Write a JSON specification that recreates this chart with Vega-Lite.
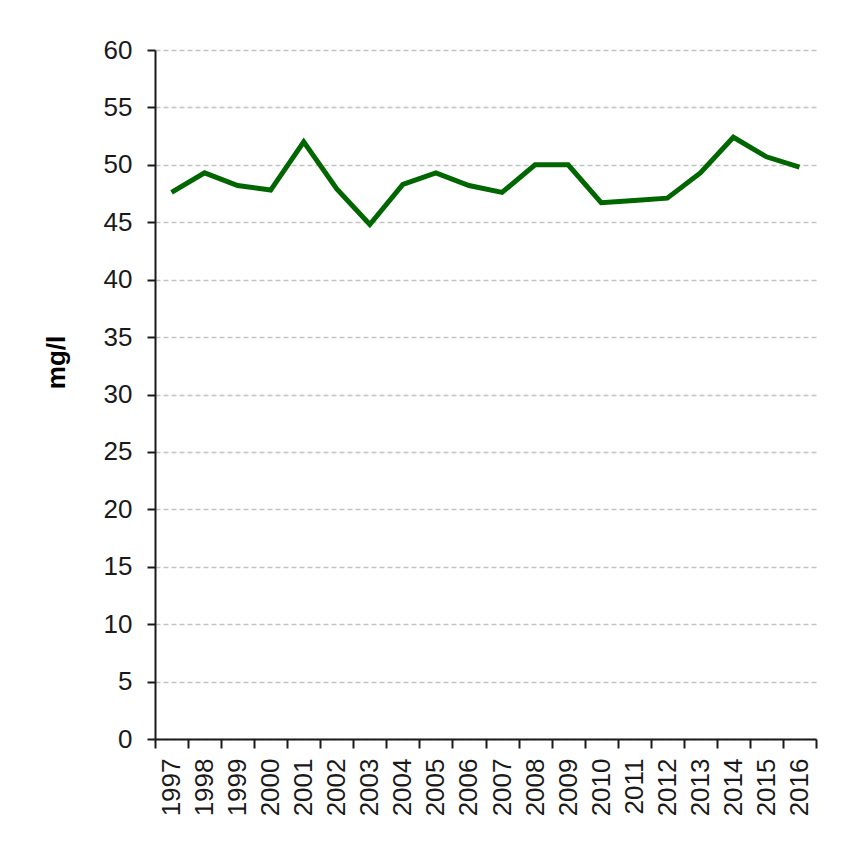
{
  "$schema": "https://vega.github.io/schema/vega-lite/v6.json",
  "width": 661,
  "height": 689,
  "autosize": {"type": "none"},
  "padding": {"left": 155, "top": 50, "right": 34, "bottom": 104},
  "background": "white",
  "config": {
    "view": {"stroke": null},
    "axis": {
      "labelFont": "Liberation Sans Narrow, Arial Narrow, Liberation Sans",
      "labelFontSize": 26,
      "labelColor": "#1a1a1a",
      "domainColor": "#1a1a1a",
      "domainWidth": 2,
      "tickColor": "#1a1a1a",
      "tickWidth": 2
    }
  },
  "data": {
    "values": [
      {"year": 1997, "value": 47.6},
      {"year": 1998, "value": 49.3},
      {"year": 1999, "value": 48.2},
      {"year": 2000, "value": 47.8},
      {"year": 2001, "value": 52.0},
      {"year": 2002, "value": 47.9},
      {"year": 2003, "value": 44.8},
      {"year": 2004, "value": 48.3},
      {"year": 2005, "value": 49.3},
      {"year": 2006, "value": 48.2},
      {"year": 2007, "value": 47.6},
      {"year": 2008, "value": 50.0},
      {"year": 2009, "value": 50.0},
      {"year": 2010, "value": 46.7},
      {"year": 2011, "value": 46.9},
      {"year": 2012, "value": 47.1},
      {"year": 2013, "value": 49.3},
      {"year": 2014, "value": 52.4},
      {"year": 2015, "value": 50.7},
      {"year": 2016, "value": 49.8}
    ]
  },
  "layer": [
    {
      "mark": {"type": "line", "color": "#006600", "strokeWidth": 5},
      "encoding": {
        "x": {
          "field": "year",
          "type": "quantitative",
          "scale": {"domain": [1996.5, 2016.5], "nice": false, "zero": false},
          "axis": {
            "orient": "bottom",
            "values": [1996.5, 1997.5, 1998.5, 1999.5, 2000.5, 2001.5, 2002.5, 2003.5, 2004.5, 2005.5, 2006.5, 2007.5, 2008.5, 2009.5, 2010.5, 2011.5, 2012.5, 2013.5, 2014.5, 2015.5, 2016.5],
            "labels": false,
            "title": null,
            "grid": false,
            "tickSize": 9
          }
        },
        "y": {
          "field": "value",
          "type": "quantitative",
          "scale": {"domain": [0, 60], "nice": false, "zero": true},
          "axis": {
            "values": [0, 5, 10, 15, 20, 25, 30, 35, 40, 45, 50, 55, 60],
            "title": "mg/l",
            "titleFont": "Liberation Sans",
            "titleFontSize": 26,
            "titleFontWeight": "bold",
            "titleColor": "#000000",
            "titleAngle": -90,
            "titleAlign": "center",
            "titleBaseline": "middle",
            "titleX": -99,
            "titleY": 312,
            "tickSize": 8,
            "labelPadding": 15,
            "grid": true,
            "gridColor": "#c4c4c4",
            "gridDash": [5, 3],
            "gridWidth": 1.5
          }
        }
      }
    },
    {
      "mark": {"type": "point", "opacity": 0},
      "encoding": {
        "x": {
          "field": "year",
          "type": "quantitative",
          "axis": {
            "orient": "bottom",
            "values": [1997, 1998, 1999, 2000, 2001, 2002, 2003, 2004, 2005, 2006, 2007, 2008, 2009, 2010, 2011, 2012, 2013, 2014, 2015, 2016],
            "format": "d",
            "labelAngle": -90,
            "labelAlign": "right",
            "labelBaseline": "middle",
            "ticks": false,
            "tickSize": 0,
            "domain": false,
            "grid": false,
            "labelPadding": 19,
            "title": null
          }
        },
        "y": {"field": "value", "type": "quantitative"}
      }
    }
  ],
  "resolve": {"axis": {"x": "independent"}}
}
